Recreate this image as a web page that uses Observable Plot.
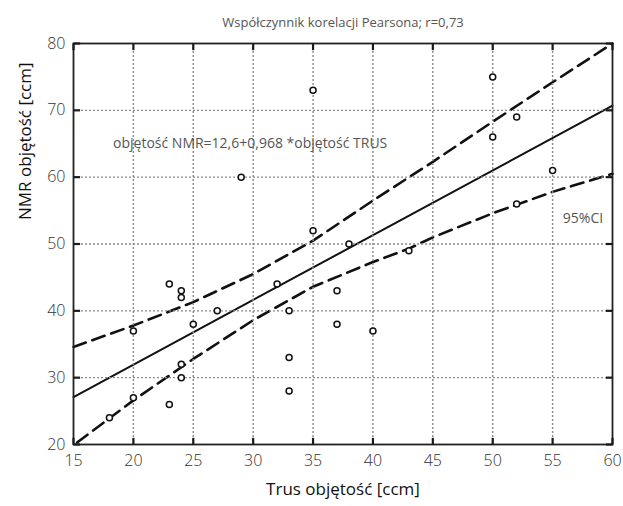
<!DOCTYPE html>
<html><head><meta charset="utf-8">
<script src="https://cdn.jsdelivr.net/npm/d3@7"></script>
<script src="https://cdn.jsdelivr.net/npm/@observablehq/plot@0.6"></script>
<style>html,body{margin:0;padding:0;background:#fff} svg{display:block}</style>
</head><body><div id="chart"></div>
<script>
const title = "Współczynnik korelacji Pearsona; r=0,73";
const xLabel = "Trus objętość [ccm]";
const yLabel = "NMR objętość [ccm]";
const equation = "objętość NMR=12,6+0,968 *objętość TRUS";
const ciLabel = "95%CI";

const xTicks = [15, 20, 25, 30, 35, 40, 45, 50, 55, 60];
const yTicks = [20, 30, 40, 50, 60, 70, 80];

const trus = [18, 20, 20, 23, 23, 24, 24, 24, 24, 25, 27, 29, 32, 33, 33, 33, 35, 35, 37, 37, 38, 40, 43, 50, 50, 52, 52, 55];
const nmr  = [24, 27, 37, 26, 44, 43, 42, 32, 30, 38, 40, 60, 44, 40, 33, 28, 73, 52, 43, 38, 50, 37, 49, 75, 66, 69, 56, 61];

const fitX = [15, 60];
const fitY = [27.1, 70.7];

const upperX = [15, 20, 25, 30, 35, 40, 45, 50, 55, 60];
const upperY = [34.6, 37.8, 41.3, 45.5, 50.5, 56.5, 62.3, 68.3, 74.2, 80];
const lowerX = [15.3, 20, 25, 30, 35, 40, 43, 45, 50, 55, 60];
const lowerY = [20.3, 26.6, 32.8, 38.6, 43.6, 47.3, 49.3, 51.0, 54.6, 57.8, 60.5];

const points = trus.map((t, i) => ({x: t, y: nmr[i]}));
const fit = fitX.map((x, i) => ({x, y: fitY[i]}));
const upper = upperX.map((x, i) => ({x, y: upperY[i]}));
const lower = lowerX.map((x, i) => ({x, y: lowerY[i]}));

const FONT = "'Open Sans', 'Noto Sans', sans-serif";
const xTickLen = 0.55, yTickLen = 1.0;
const xMin = xTicks[0], xMax = xTicks[xTicks.length - 1];
const yMin = yTicks[0], yMax = yTicks[yTicks.length - 1];

const grid = {stroke: "#8a8a8a", strokeWidth: 1.4, strokeDasharray: "2,2"};
const tick = {stroke: "#1a1a1a", strokeWidth: 2.2};

const chart = Plot.plot({
  width: 623,
  height: 506,
  marginLeft: 73,
  marginRight: 11,
  marginTop: 43,
  marginBottom: 62,
  style: {fontFamily: FONT, background: "#fff", color: "#333"},
  x: {domain: [xMin, xMax]},
  y: {domain: [yMin, yMax]},
  marks: [
    Plot.line(upper, {x: "x", y: "y", stroke: "#111", strokeWidth: 2.6, strokeDasharray: "13,7"}),
    Plot.line(lower, {x: "x", y: "y", stroke: "#111", strokeWidth: 2.6, strokeDasharray: "13,7"}),
    Plot.line(fit, {x: "x", y: "y", stroke: "#111", strokeWidth: 2}),
    Plot.gridX(xTicks.slice(1, -1), {...grid, strokeOpacity: 1}),
    Plot.gridY(yTicks.slice(1, -1), {...grid, strokeOpacity: 1}),
    Plot.dot(points, {x: "x", y: "y", r: 3, stroke: "#111", strokeWidth: 1.5, fill: "#fff"}),
    Plot.frame({stroke: "#222", strokeWidth: 1.8}),
    Plot.link(xTicks, {x1: d => d, x2: d => d, y1: yMin, y2: yMin + yTickLen, ...tick}),
    Plot.link(xTicks, {x1: d => d, x2: d => d, y1: yMax, y2: yMax - yTickLen, ...tick}),
    Plot.link(yTicks, {y1: d => d, y2: d => d, x1: xMin, x2: xMin + xTickLen, ...tick}),
    Plot.link(yTicks, {y1: d => d, y2: d => d, x1: xMax, x2: xMax - xTickLen, ...tick}),
    Plot.axisX(xTicks, {tickSize: 0, tickPadding: 10, fontSize: 16, fill: "#333", fontWeight: 300, label: null}),
    Plot.axisY(yTicks, {tickSize: 0, tickPadding: 8, fontSize: 16, fill: "#333", fontWeight: 300, label: null}),
    Plot.text([equation], {x: 18.3, y: 65, textAnchor: "start", fontSize: 14, fill: "#555"}),
    Plot.text([ciLabel], {x: 55.85, y: 53.8, textAnchor: "start", fontSize: 14, fill: "#555"}),
    Plot.text([title], {frameAnchor: "top", dy: -26, fontSize: 13, fill: "#555"}),
    Plot.text([xLabel], {frameAnchor: "bottom", dy: 50, fontSize: 17, fill: "#111"}),
    Plot.text([yLabel], {frameAnchor: "left", dx: -48, dy: -24, rotate: -90, fontSize: 17, fill: "#111"})
  ]
});
document.getElementById("chart").appendChild(chart);
</script>
</body></html>
